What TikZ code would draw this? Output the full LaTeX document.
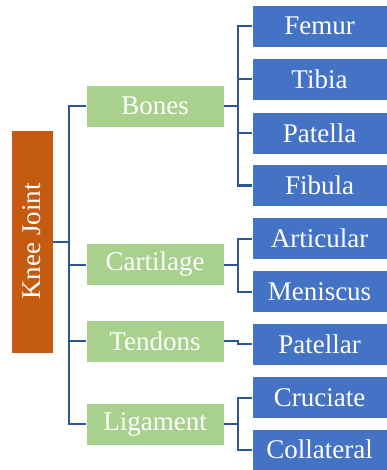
\documentclass[tikz,border=0pt]{standalone}
\usepackage{fontspec}
\setmainfont{Liberation Serif}
\usepackage{xcolor}
\usepackage{tikz}
\usetikzlibrary{calc}
\definecolor{kneeorange}{HTML}{C55A11}
\definecolor{partgreen}{HTML}{A9D18E}
\definecolor{itemblue}{HTML}{4472C4}
\definecolor{linkblue}{HTML}{2F5597}

\begin{document}
\begin{tikzpicture}[
    x=1pt, y=-1pt,
    box/.style={draw=white, line width=0.4pt, text=white, inner sep=0pt, font=\fontsize{27}{32}\selectfont},
    rootbox/.style={box, fill=kneeorange, minimum width=42pt, minimum height=223pt},
    partbox/.style={box, fill=partgreen, minimum width=138pt, minimum height=42pt},
    itembox/.style={box, fill=itemblue, minimum width=135pt, minimum height=42pt},
    link/.style={draw=linkblue, line width=2pt}
]
\useasboundingbox (0,0) rectangle (387,470);

% Root
\node (knee) at (32, 241.5) [rootbox] {\rotatebox{90}{Knee Joint}};

% Parts
\node (bones) at (155, 106) [partbox] {Bones};
\node (cartilage) at (155, 264.5) [partbox] {Cartilage};
\node (tendons) at (155, 341) [partbox] {Tendons};
\node (ligament) at (155, 424) [partbox] {Ligament};

% Items
\node (femur) at (319.5, 26) [itembox] {Femur};
\node (tibia) at (319.5, 79.5) [itembox] {Tibia};
\node (patella) at (319.5, 133) [itembox] {Patella};
\node (fibula) at (319.5, 185.5) [itembox] {Fibula};
\node (articular) at (319.5, 238.5) [itembox] {Articular};
\node (meniscus) at (319.5, 291.5) [itembox] {Meniscus};
\node (patellar) at (319.5, 344) [itembox] {Patellar};
\node (cruciate) at (319.5, 397.5) [itembox] {Cruciate};
\node (collateral) at (319.5, 449.5) [itembox, minimum height=41pt] {Collateral};

% Links root -> parts
\coordinate (kj) at ($(knee.east)+(16,0)$);
\draw[link] (knee.east) -- (kj);
\foreach \p in {bones, cartilage, tendons, ligament}
    \draw[link] (kj) |- (\p.west);

% Links parts -> items
\foreach \p/\i in {bones/femur, bones/tibia, bones/patella, bones/fibula,
                   cartilage/articular, cartilage/meniscus,
                   tendons/patellar,
                   ligament/cruciate, ligament/collateral}
    \draw[link] (\p.east) -- ++(14,0) |- (\i.west);
\end{tikzpicture}
\end{document}
